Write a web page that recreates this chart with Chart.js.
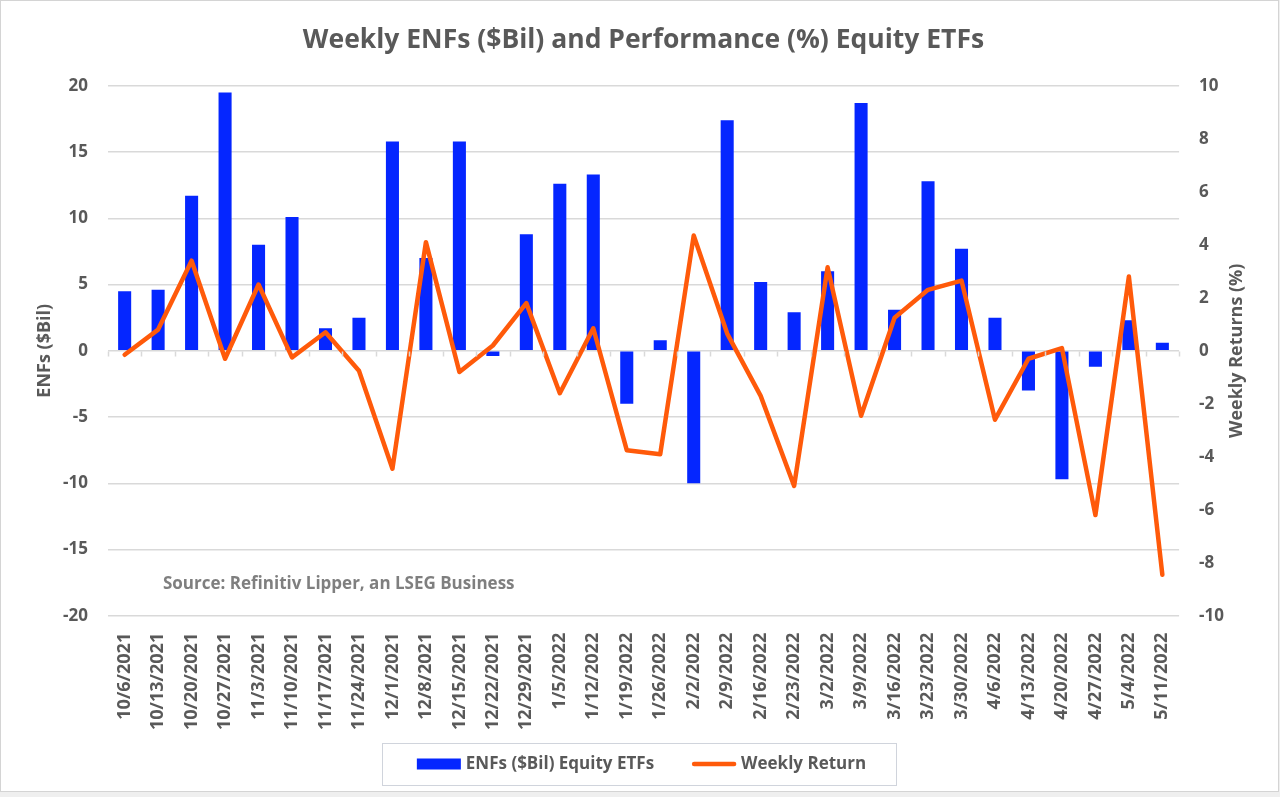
<!DOCTYPE html>
<html>
<head>
<meta charset="utf-8">
<title>Weekly ENFs and Performance Equity ETFs</title>
<script src="https://cdn.jsdelivr.net/npm/chart.js@4.4.1/dist/chart.umd.min.js"></script>
<style>
  html, body { margin: 0; padding: 0; background: #efefef; }
  #frame {
    width: 1277px; height: 790px;
    border: 1px solid #d4d4d4;
    background: #fff;
  }
  canvas { display: block; }
</style>
</head>
<body>
<div id="frame"><canvas id="enfChart" width="1277" height="790"></canvas></div>
<script>
"use strict";

const weeks = [
  "10/6/2021", "10/13/2021", "10/20/2021", "10/27/2021", "11/3/2021", "11/10/2021",
  "11/17/2021", "11/24/2021", "12/1/2021", "12/8/2021", "12/15/2021", "12/22/2021",
  "12/29/2021", "1/5/2022", "1/12/2022", "1/19/2022", "1/26/2022", "2/2/2022",
  "2/9/2022", "2/16/2022", "2/23/2022", "3/2/2022", "3/9/2022", "3/16/2022",
  "3/23/2022", "3/30/2022", "4/6/2022", "4/13/2022", "4/20/2022", "4/27/2022",
  "5/4/2022", "5/11/2022"
];

// ENFs ($Bil), equity ETFs
const flows = [
  4.5, 4.6, 11.7, 19.5, 8.0, 10.1, 1.7, 2.5, 15.8, 7.0, 15.8, -0.4,
  8.8, 12.6, 13.3, -4.0, 0.8, -10.0, 17.4, 5.2, 2.9, 6.0, 18.7, 3.1,
  12.8, 7.7, 2.5, -3.0, -9.7, -1.2, 2.3, 0.6
];

// weekly return (%)
const returns = [
  -0.15, 0.8, 3.4, -0.3, 2.5, -0.25, 0.7, -0.75, -4.45, 4.1, -0.8, 0.2,
  1.8, -1.6, 0.85, -3.75, -3.9, 4.35, 0.65, -1.7, -5.1, 3.15, -2.45, 1.25,
  2.3, 2.65, -2.6, -0.3, 0.1, -6.2, 2.8, -8.45
];

const TITLE = "Weekly ENFs ($Bil) and Performance (%) Equity ETFs";
const SOURCE = "Source: Refinitiv Lipper, an LSEG Business";
const LEFT_TITLE = "ENFs ($Bil)";
const RIGHT_TITLE = "Weekly Returns (%)";
const BAR_COLOR = "#0526ff";
const LINE_COLOR = "#ff5a0a";
const TEXT_COLOR = "#595959";
const GRID_COLOR = "#d9d9d9";
const FONT = "'Open Sans', 'Noto Sans', sans-serif";

Chart.defaults.font.family = FONT;
Chart.defaults.color = TEXT_COLOR;

function drawRotated(ctx, text, x, y) {
  ctx.save();
  ctx.translate(x, y);
  ctx.rotate(-Math.PI / 2);
  ctx.textAlign = "center";
  ctx.textBaseline = "middle";
  ctx.fillText(text, 0, 0);
  ctx.restore();
}

// axis titles, source note, zero-line ticks and an Excel-like framed legend
const extrasPlugin = {
  id: "extras",
  afterDraw(chart) {
    const { ctx, chartArea, scales } = chart;
    const midY = (chartArea.top + chartArea.bottom) / 2;
    ctx.save();

    // little category ticks hanging from the zero line
    const zeroY = Math.round(scales.y.getPixelForValue(0)) + 0.5;
    const step = (chartArea.right - chartArea.left) / weeks.length;
    ctx.strokeStyle = GRID_COLOR;
    ctx.lineWidth = 1.5;
    ctx.beginPath();
    for (let i = 0; i <= weeks.length; i++) {
      const x = Math.round(chartArea.left + i * step) + 0.5;
      ctx.moveTo(x, zeroY);
      ctx.lineTo(x, zeroY + 5);
    }
    ctx.stroke();

    ctx.fillStyle = TEXT_COLOR;
    ctx.font = `bold 18px ${FONT}`;
    drawRotated(ctx, LEFT_TITLE, 44, midY);
    drawRotated(ctx, RIGHT_TITLE, 1236, midY);

    ctx.fillStyle = "#7f7f7f";
    ctx.font = `bold 17px ${FONT}`;
    ctx.textAlign = "left";
    ctx.textBaseline = "middle";
    ctx.fillText(SOURCE, chartArea.left + 55, scales.y.getPixelForValue(-17.6));

    // legend
    const items = chart.data.datasets.map((ds) => ({
      text: ds.label, color: ds.borderColor || ds.backgroundColor, kind: ds.type
    }));
    ctx.font = `bold 17px ${FONT}`;
    const swatchW = 44, gap = 5, itemGap = 38;
    const widths = items.map((it) => swatchW + gap + ctx.measureText(it.text).width);
    const total = widths.reduce((a, b) => a + b, 0) + itemGap * (items.length - 1);
    const cy = 763;
    let x = chart.width / 2 - total / 2 + 2;
    ctx.strokeStyle = "#d0d4dc";
    ctx.lineWidth = 1;
    ctx.strokeRect(Math.round(x - 35) + 0.5, 742.5, Math.round(total + 65), 42);
    items.forEach((it, i) => {
      if (it.kind === "bar") {
        ctx.fillStyle = it.color;
        ctx.fillRect(x, cy - 5.5, swatchW, 11);
      } else {
        ctx.strokeStyle = it.color;
        ctx.lineWidth = 4.5;
        ctx.lineCap = "round";
        ctx.beginPath();
        ctx.moveTo(x + 2, cy);
        ctx.lineTo(x + swatchW - 2, cy);
        ctx.stroke();
      }
      ctx.fillStyle = TEXT_COLOR;
      ctx.textBaseline = "middle";
      ctx.fillText(it.text, x + swatchW + gap, cy);
      x += widths[i] + itemGap;
    });
    ctx.restore();
  }
};

const canvas = document.getElementById("enfChart");
new Chart(canvas, {
  data: {
    labels: weeks,
    datasets: [
      {
        type: "bar",
        label: "ENFs ($Bil) Equity ETFs",
        data: flows,
        yAxisID: "y",
        backgroundColor: BAR_COLOR,
        borderWidth: 0,
        barPercentage: 0.39,
        categoryPercentage: 1,
        order: 2
      },
      {
        type: "line",
        label: "Weekly Return",
        data: returns,
        yAxisID: "y1",
        borderColor: LINE_COLOR,
        backgroundColor: LINE_COLOR,
        borderWidth: 4.5,
        borderJoinStyle: "round",
        borderCapStyle: "round",
        pointRadius: 0,
        tension: 0,
        order: 1
      }
    ]
  },
  options: {
    responsive: false,
    animation: false,
    layout: { padding: { left: 42, right: 34, top: 0, bottom: 52 } },
    plugins: {
      title: {
        display: true,
        text: TITLE,
        color: TEXT_COLOR,
        font: { size: 26.5, weight: "bold" },
        padding: { top: 24, bottom: 29 }
      },
      legend: { display: false },
      tooltip: { enabled: false }
    },
    scales: {
      x: {
        grid: { display: false },
        border: { display: false },
        ticks: {
          minRotation: 90,
          maxRotation: 90,
          autoSkip: false,
          padding: 9,
          color: TEXT_COLOR,
          font: { size: 18, weight: "bold" }
        }
      },
      y: {
        position: "left",
        min: -20,
        max: 20,
        grid: { color: GRID_COLOR, lineWidth: 1.5, drawTicks: false },
        border: { display: false },
        ticks: {
          stepSize: 5,
          padding: 20,
          color: TEXT_COLOR,
          font: { size: 17, weight: "bold" }
        }
      },
      y1: {
        position: "right",
        min: -10,
        max: 10,
        grid: { display: false, drawTicks: false },
        border: { display: false },
        ticks: {
          stepSize: 2,
          padding: 20,
          color: TEXT_COLOR,
          font: { size: 17, weight: "bold" }
        }
      }
    }
  },
  plugins: [extrasPlugin]
});
</script>
</body>
</html>
